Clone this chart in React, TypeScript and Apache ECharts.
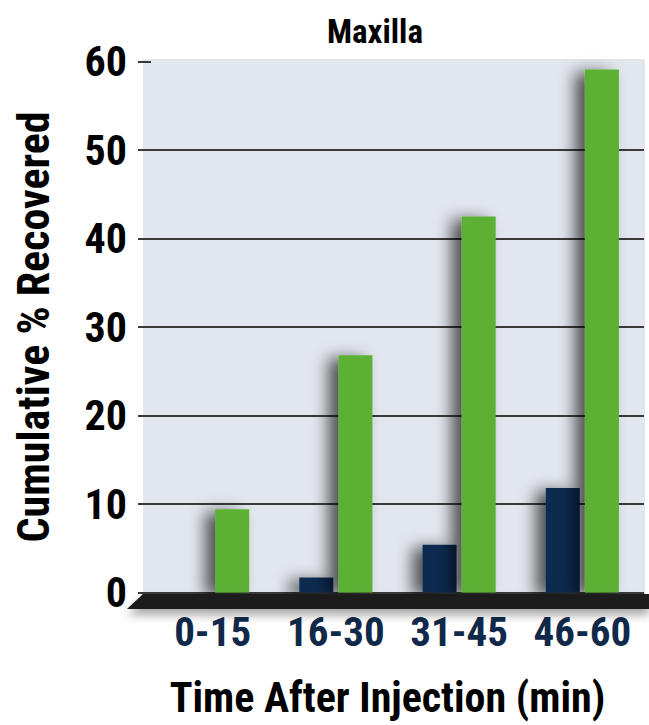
import React, { useEffect, useRef } from "react";
import * as echarts from "echarts";

const categories = ["0-15", "16-30", "31-45", "46-60"];
const navyValues = [0, 1.7, 5.4, 11.8];
const greenValues = [9.4, 26.8, 42.5, 59.1];
const yTicks = { min: 0, max: 60, interval: 10 };

const FONT = '"Roboto Condensed", "DejaVu Sans Condensed", sans-serif';
const WEIGHT = "bold";

export default function App() {
  const ref = useRef<HTMLDivElement>(null);
  useEffect(() => {
    if (!ref.current) return;
    const chart = echarts.init(ref.current, null, { renderer: "svg" });
    const barShadow = {
      shadowColor: "rgba(0,0,0,0.65)",
      shadowBlur: 16,
      shadowOffsetX: -10,
      shadowOffsetY: 3,
    };
    chart.setOption({
      animation: false,
      backgroundColor: "#ffffff",
      graphic: [
        {
          type: "rect",
          z: -10,
          silent: true,
          shape: { x: 143, y: 59, width: 502, height: 536 },
          style: { fill: "#e2e6ed" },
        },
        {
          type: "polygon",
          z: 100,
          silent: true,
          shape: { points: [[143, 594], [649, 594], [649, 609], [127, 609]] },
          style: {
            fill: "#1a1a1a",
            shadowColor: "rgba(0,0,0,0.35)",
            shadowBlur: 10,
            shadowOffsetY: 6,
          },
        },
        {
          type: "text",
          z: 100,
          x: 375,
          y: 31,
          style: {
            text: "Maxilla",
            fontFamily: FONT,
            fontWeight: WEIGHT,
            fontSize: 33,
            fill: "#000",
            textAlign: "center",
            textVerticalAlign: "middle",
          },
        },
      ],
      grid: { left: 151, right: 5, top: 61.5, bottom: 132.5 },
      xAxis: {
        type: "category",
        data: categories,
        axisLine: { show: false },
        axisTick: { show: false },
        axisLabel: {
          interval: 0,
          margin: 19,
          fontFamily: FONT,
          fontWeight: WEIGHT,
          fontSize: 41,
          color: "#10294a",
        },
        name: "Time After Injection (min)",
        nameLocation: "middle",
        nameGap: 84,
        nameTextStyle: {
          fontFamily: FONT,
          fontWeight: WEIGHT,
          fontSize: 42,
          color: "#000",
          padding: [0, 20, 0, 0],
        },
      },
      yAxis: {
        type: "value",
        min: yTicks.min,
        max: yTicks.max,
        interval: yTicks.interval,
        axisLine: { show: false },
        axisTick: { show: true, length: 13, lineStyle: { color: "#3a3a3a", width: 2 } },
        splitLine: {
          show: true,
          showMaxLine: false,
          lineStyle: { color: "#3a3a3a", width: 2 },
        },
        axisLabel: {
          margin: 24,
          fontFamily: FONT,
          fontWeight: WEIGHT,
          fontSize: 42,
          color: "#000",
          padding: [0, 0, 8, 0],
        },
        name: "Cumulative % Recovered",
        nameLocation: "middle",
        nameGap: 95,
        nameTextStyle: { fontFamily: FONT, fontWeight: WEIGHT, fontSize: 44, color: "#000" },
      },
      series: [
        {
          type: "bar",
          data: navyValues,
          barWidth: 34,
          barGap: "15%",
          itemStyle: { color: "#0f2b4f", ...barShadow },
        },
        {
          type: "bar",
          data: greenValues,
          barWidth: 34,
          barGap: "15%",
          itemStyle: { color: "#5bb134", ...barShadow },
        },
      ],
    });
    return () => chart.dispose();
  }, []);
  return (
    <div
      ref={ref}
      style={{ position: "fixed", left: 0, top: 0, width: 649, height: 725 }}
    />
  );
}
